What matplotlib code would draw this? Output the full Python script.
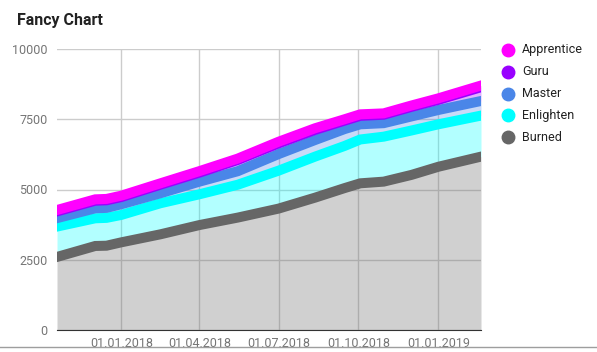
#!/usr/bin/env python3
"""Stacked area chart of item counts per SRS stage ("Fancy Chart")."""

import numpy as np
import pandas as pd
import matplotlib
matplotlib.use("Agg")
import matplotlib.pyplot as plt
import matplotlib.dates as mdates
from matplotlib.lines import Line2D

plt.rcParams["font.family"] = ["Roboto", "DejaVu Sans"]

# --- data --------------------------------------------------------------
dates = pd.to_datetime([
    "2017-10-19", "2017-12-02", "2017-12-15", "2018-01-01", "2018-02-15",
    "2018-04-01", "2018-05-15", "2018-07-01", "2018-08-12",
    "2018-09-15", "2018-10-03", "2018-10-30", "2018-12-01", "2019-01-01",
    "2019-02-19",
])
burned = [2600, 2990, 3000, 3120, 3405, 3735, 4000, 4320, 4710,
          5050, 5220, 5280, 5520, 5810, 6170]
enlighten = [1080, 985, 990, 975, 1105, 1095, 1170, 1350, 1460,
             1500, 1560, 1600, 1580, 1510, 1460]
master = [300, 355, 355, 380, 355, 450, 480, 590, 590,
          600, 540, 480, 500, 510, 520]
guru = [240, 270, 270, 255, 305, 320, 400, 380, 360,
        300, 300, 300, 340, 360, 490]
apprentice = [50, 50, 50, 50, 50, 55, 50, 60, 60,
              50, 55, 50, 50, 55, 60]

# bottom -> top stacking order
series = [
    ("Burned", burned, "#666666"),
    ("Enlighten", enlighten, "#00ffff"),
    ("Master", master, "#4a86e8"),
    ("Guru", guru, "#9900ff"),
    ("Apprentice", apprentice, "#ff00ff"),
]

x_ticks = pd.to_datetime(["2018-01-01", "2018-04-01", "2018-07-01",
                          "2018-10-01", "2019-01-01"])
y_ticks = [0, 2500, 5000, 7500, 10000]

# --- figure -------------------------------------------------------------
W, H = 597, 352
fig = plt.figure(figsize=(W / 100, H / 100), dpi=100)
ax = fig.add_axes([57 / W, 1 - 330 / H, (481 - 57) / W, (330 - 49) / H])

lower = np.zeros(len(dates))
for i, (name, vals, color) in enumerate(series):
    upper = lower + np.asarray(vals, dtype=float)
    ax.fill_between(dates, lower, upper, color=color, alpha=0.3,
                    linewidth=0, zorder=1)
    ax.plot(dates, upper, color=color, linewidth=7.2,
            solid_joinstyle="miter", zorder=2 + i)
    lower = upper

ax.set_xlim(dates[0], dates[-1])
ax.set_ylim(0, 10000)
ax.set_xticks(x_ticks)
ax.xaxis.set_major_formatter(mdates.DateFormatter("%d.%m.%Y"))
ax.set_yticks(y_ticks)
ax.set_yticklabels([str(v) for v in y_ticks])
ax.tick_params(length=0, labelsize=9, colors="#757575")
ax.tick_params(axis="x", pad=5)
ax.tick_params(axis="y", pad=7)
ax.grid(True, color="#cccccc", linewidth=1, zorder=0)
ax.set_axisbelow(True)
for side in ("top", "right", "left"):
    ax.spines[side].set_visible(False)
ax.spines["bottom"].set_color("#333333")
ax.spines["bottom"].set_zorder(10)

fig.text(17 / W, 1 - 20 / H, "Fancy Chart", fontsize=11.5,
         fontweight="bold", color="#222222", va="center", ha="left")

# legend, top to bottom
for j, (name, vals, color) in enumerate(reversed(series)):
    yy = 1 - (50 + j * 21.8) / H
    fig.add_artist(Line2D([508 / W], [yy], marker="o", markersize=9,
                          color=color, linestyle="none",
                          transform=fig.transFigure))
    fig.text(522 / W, yy, name, fontsize=9, color="#222222",
             va="center", ha="left")

# thin frame line at the bottom of the image
fig.add_artist(Line2D([0, 1], [1 - 347 / H] * 2, color="#9e9e9e",
                      linewidth=1, transform=fig.transFigure))

fig.savefig("out.png", dpi=100)
